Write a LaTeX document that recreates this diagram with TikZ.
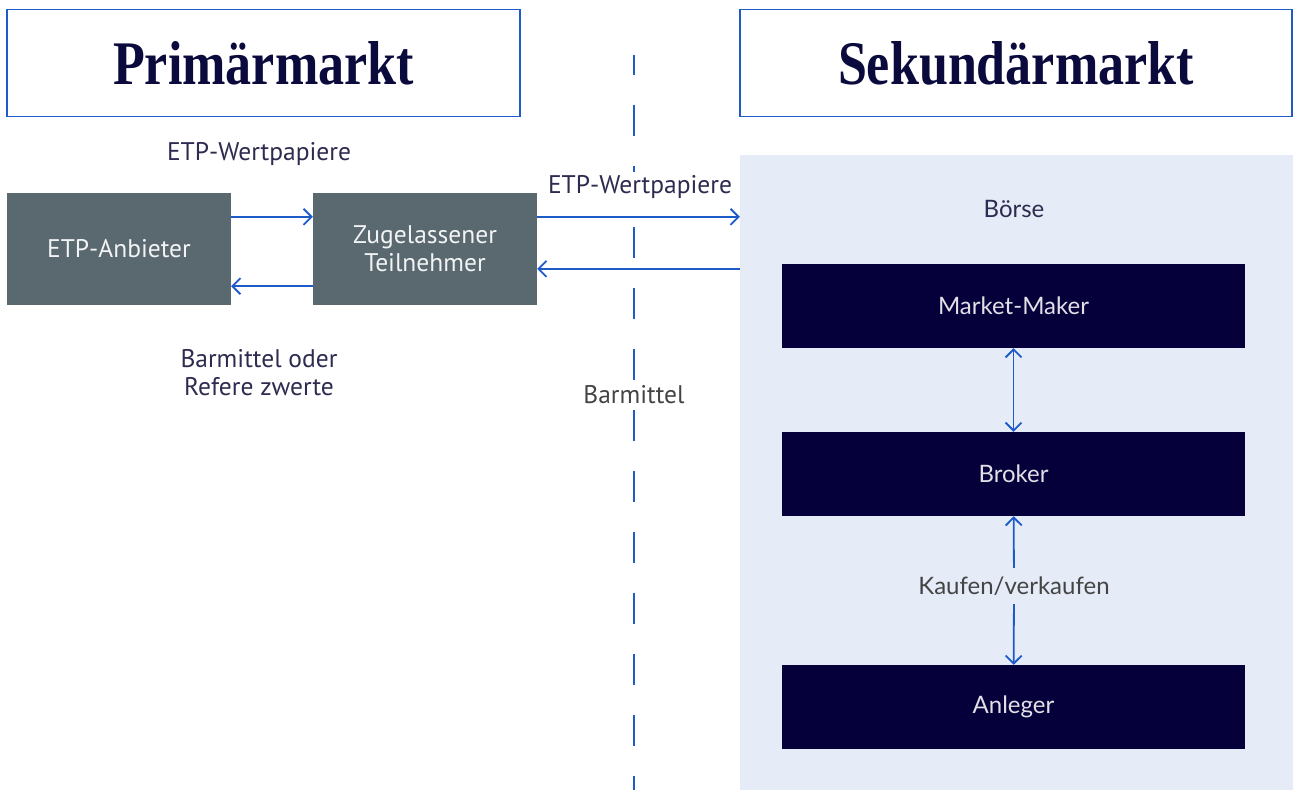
\documentclass[tikz,border=0pt]{standalone}
\usepackage{fontspec}
\setmainfont{PT Sans}
\newfontfamily\titlefont[FakeStretch=0.84]{Liberation Serif}
\newfontfamily\boersefont{Lato}
\usepackage{tikz}
\usetikzlibrary{arrows.meta}
\definecolor{frameblue}{HTML}{1F5BC8}
\definecolor{titlecol}{HTML}{0B0A3D}
\definecolor{boxgrey}{HTML}{5A6870}
\definecolor{navy}{HTML}{06003A}
\definecolor{panelblue}{HTML}{E5ECF8}
\definecolor{labelcol}{HTML}{2D2B50}
\definecolor{greytext}{HTML}{444444}

\begin{document}
\begin{tikzpicture}[x=1pt, y=-1pt,
  titlebox/.style={draw=frameblue, line width=1.5pt, fill=white, minimum width=#1, minimum height=107,
    inner sep=0pt, text=titlecol, font=\titlefont\bfseries\fontsize{62}{62}\selectfont},
  greybox/.style={fill=boxgrey, minimum width=224, minimum height=112, inner sep=0pt, align=center,
    text=white!92!boxgrey, font=\fontsize{25.5}{28}\selectfont},
  navybox/.style={fill=navy, minimum width=463, minimum height=84, inner sep=0pt,
    text=white!88!navy, font=\boersefont\fontsize{24}{28}\selectfont},
  lbl/.style={inner sep=3pt, text=labelcol, font=\fontsize{25.5}{28}\selectfont},
  flow/.style={draw=frameblue, line width=1.8pt, -{Straight Barb[length=8pt,width=16pt]}},
  dflow/.style={flow, {Straight Barb[length=8pt,width=16pt]}-{Straight Barb[length=8pt,width=16pt]}}]
\useasboundingbox (0,0) rectangle (1293,790);

% Boerse background
\node[fill=panelblue, minimum width=553, minimum height=635, inner sep=0pt] (panel) at (1016.5,472.5) {};

% divider
\coordinate (divtop) at (634,55);
\coordinate (divbot) at (634,790);
\draw[frameblue, line width=1.5pt, dash pattern=on 31pt off 30pt, dash phase=11pt] (divtop) -- (divbot);

% headers
\node[titlebox=513] (prim) at (263.5,63) {Primärmarkt};
\node[titlebox=552] (sek) at (1016,63) {Sekundärmarkt};

% primary market
\node[greybox] (anb) at (119,249) {ETP-Anbieter};
\node[greybox] (zug) at (425,249) {Zugelassener\\Teilnehmer};
\node[lbl] (wp1) at (259,154) {ETP-Wertpapiere};
\node[lbl, align=center] (bm1) at (259,373) {Barmittel oder\\Refere zwerte};
\draw[flow] ([yshift=-24pt]anb.north east) -- ([yshift=-24pt]zug.north west);
\draw[flow] ([yshift=19pt]zug.south west) -- ([yshift=19pt]anb.south east);

% to the exchange
\coordinate (z1) at ([yshift=-24pt]zug.north east);
\coordinate (z2) at ([yshift=-76pt]zug.north east);
\draw[flow] (z1) -- (z1 -| panel.west);
\draw[flow] (z2 -| panel.west) -- (z2);
\node[lbl, fill=white] (wp2) at (640,187) {ETP-Wertpapiere};
\node[lbl, fill=white, text=greytext] (bm2) at (634,395) {Barmittel};

% secondary market
\node[text=labelcol, font=\boersefont\fontsize{24}{28}\selectfont] (boerse) at (1014,209) {Börse};
\node[navybox] (mm) at (1013.5,306) {Market-Maker};
\node[navybox] (broker) at (1013.5,474) {Broker};
\node[navybox] (anl) at (1013.5,707) {Anleger};
\node[inner sep=0pt, minimum height=36, text=greytext, font=\boersefont\fontsize{24}{28}\selectfont] (kauf) at (1014,586) {Kaufen/verkaufen};
\draw[dflow] (mm) -- (broker);
\draw[flow] (kauf) -- (broker);
\draw[flow] (kauf) -- (anl);
\end{tikzpicture}
\end{document}
